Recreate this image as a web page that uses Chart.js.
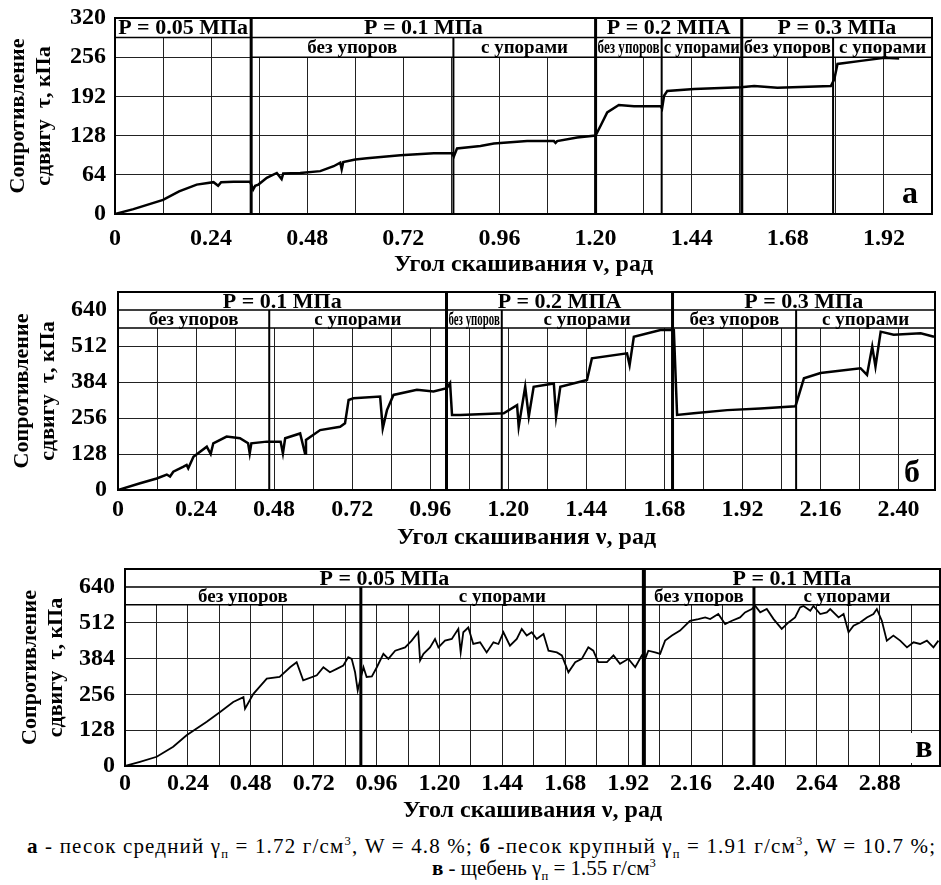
<!DOCTYPE html>
<html>
<head>
<meta charset="utf-8">
<script src="https://cdn.jsdelivr.net/npm/chart.js@4.4.1/dist/chart.umd.min.js"></script>
<style>
  body { margin: 0; background: #fff; width: 941px; height: 885px; position: relative; overflow: hidden; }
  canvas { position: absolute; left: 0; }
  .cap { position: absolute; font-family: 'Liberation Serif'; font-size: 21px; line-height: 24px; color: #000; white-space: nowrap; }
  .cap sub, .cap sup { font-size: 0.6em; line-height: 0; }
</style>
</head>
<body>
<canvas id="chartA" width="941" height="280" style="top:0"></canvas>
<canvas id="chartB" width="941" height="280" style="top:280px"></canvas>
<canvas id="chartC" width="941" height="265" style="top:560px"></canvas>
<div class="cap" id="cap1" style="left:27px;top:834px"><b>а</b> - песок средний  γ<sub>п</sub> = 1.72 г/см<sup>3</sup>, W = 4.8 %; <b>б</b> -песок крупный  γ<sub>п</sub> = 1.91 г/см<sup>3</sup>, W = 10.7 %;</div>
<div class="cap" id="cap2" style="left:432px;top:856px"><b>в</b> - щебень γ<sub>п</sub> = 1.55 г/см<sup>3</sup></div>

<script>
// a - medium sand
const angA = [0, 0.046, 0.12, 0.16, 0.204, 0.246, 0.2575, 0.265, 0.296, 0.3375, 0.345, 0.35, 0.358, 0.379, 0.404, 0.416, 0.42, 0.4625, 0.5125, 0.546, 0.5625, 0.566, 0.57, 0.6, 0.629, 0.7125, 0.796, 0.842, 0.846, 0.854, 0.9125, 0.946, 1.029, 1.096, 1.1, 1.104, 1.154, 1.2, 1.2125, 1.229, 1.258, 1.296, 1.3625, 1.366, 1.371, 1.379, 1.446, 1.5625, 1.596, 1.654, 1.7875, 1.796, 1.804, 1.8625, 1.921, 1.958];
const tauA = [0, 8, 23, 37, 48, 52, 46, 52, 52.5, 52.5, 40, 46, 48, 59, 67, 57, 66, 67, 70, 78, 84, 73, 85, 89, 91, 96, 99, 99, 94, 107, 111, 115, 119, 119, 116, 119, 125, 128, 144, 166, 178, 176, 176, 172, 193, 201, 204, 207, 209, 206, 209, 220, 245, 250, 255, 254];

// б - coarse sand
const angB = [0, 0.068, 0.119, 0.15, 0.16, 0.17, 0.2, 0.211, 0.216, 0.232, 0.273, 0.285, 0.293, 0.334, 0.375, 0.40, 0.405, 0.41, 0.4575, 0.50, 0.507, 0.514, 0.56, 0.575, 0.578, 0.6215, 0.683, 0.698, 0.709, 0.724, 0.806, 0.814, 0.827, 0.847, 0.919, 0.97, 1.011, 1.021, 1.027, 1.052, 1.186, 1.227, 1.232, 1.252, 1.263, 1.278, 1.34, 1.347, 1.36, 1.442, 1.457, 1.565, 1.573, 1.586, 1.668, 1.709, 1.719, 1.77, 1.873, 1.975, 2.083, 2.109, 2.16, 2.283, 2.303, 2.319, 2.329, 2.345, 2.385, 2.468, 2.509];
const tauB = [0, 24, 41, 55, 48, 65, 82, 89, 77, 118, 154, 128, 166, 190, 184, 166, 130, 166, 172, 172, 130, 184, 201, 130, 178, 213, 225, 237, 320, 326, 332, 219, 284, 338, 356, 350, 362, 380, 267, 267, 273, 302, 225, 367, 261, 367, 379, 261, 367, 391, 468, 486, 444, 545, 569, 569, 267, 273, 284, 290, 298, 397, 416, 433, 409, 510, 439, 563, 552, 557, 545];

// в - crushed stone
const angC = [0, 0.057, 0.121, 0.184, 0.235, 0.312, 0.363, 0.413, 0.452, 0.458, 0.49, 0.541, 0.59, 0.63, 0.655, 0.68, 0.732, 0.757,
  0.782, 0.808, 0.833, 0.852, 0.865, 0.878, 0.888, 0.897, 0.91, 0.922, 0.942, 0.961, 0.986, 1.005, 1.031, 1.069, 1.094, 1.119, 1.126, 1.139, 1.164, 1.183, 1.196, 1.221, 1.247, 1.272, 1.281, 1.291, 1.31, 1.329, 1.355, 1.38, 1.406, 1.425, 1.444, 1.469, 1.495, 1.514, 1.533, 1.552, 1.571, 1.597, 1.616, 1.648, 1.667, 1.692, 1.718, 1.743, 1.768, 1.787, 1.806, 1.839, 1.864, 1.889, 1.921, 1.947, 1.972, 1.985,
  1.997, 2.023, 2.042, 2.061, 2.087, 2.118, 2.156, 2.188, 2.214, 2.233, 2.264, 2.29, 2.316, 2.347, 2.366, 2.392, 2.405, 2.424, 2.449, 2.475, 2.506, 2.532, 2.557, 2.576, 2.589, 2.615, 2.627, 2.653, 2.678, 2.691, 2.723, 2.742, 2.761, 2.78, 2.805, 2.831, 2.856, 2.869, 2.888, 2.907, 2.932, 2.958, 2.984, 3.009, 3.034, 3.06, 3.085, 3.104];
const tauC = [0, 15, 33, 69, 110, 158, 193, 229, 246, 205, 258, 312, 318, 353, 371, 306, 324, 353,
  335, 347, 359, 389, 383, 335, 270, 306, 353, 318, 320, 353, 401, 383, 412, 424, 448, 478, 377, 401, 424, 454, 424, 448, 454, 490, 406, 478, 495, 436, 442, 406, 442, 436, 478, 430, 454, 490, 466, 478, 454, 472, 412, 406, 395, 335, 371, 383, 424, 412, 371, 371, 395, 365, 383, 353, 395, 383,
  412, 406, 401, 448, 466, 484, 519, 525, 531, 525, 543, 507, 519, 531, 549, 561, 572, 549, 561, 525, 490, 513, 531, 567, 572, 555, 572, 543, 549, 561, 531, 543, 478, 501, 513, 531, 543, 561, 519, 448, 466, 448, 424, 442, 436, 448, 424, 448];

// axis ticks (grid lines) and labelled ticks
const xGridA = [0, 0.12, 0.24, 0.36, 0.48, 0.60, 0.72, 0.84, 0.96, 1.08, 1.20, 1.32, 1.44, 1.56, 1.68, 1.80, 1.92, 2.04];
const xLabelsA = [0, 0.24, 0.48, 0.72, 0.96, 1.20, 1.44, 1.68, 1.92];
const xGridB = [0, 0.12, 0.24, 0.36, 0.48, 0.60, 0.72, 0.84, 0.96, 1.08, 1.20, 1.32, 1.44, 1.56, 1.68, 1.80, 1.92, 2.04, 2.16, 2.28, 2.40];
const xLabelsB = [0, 0.24, 0.48, 0.72, 0.96, 1.20, 1.44, 1.68, 1.92, 2.16, 2.40];
const xGridC = [0, 0.12, 0.24, 0.36, 0.48, 0.60, 0.72, 0.84, 0.96, 1.08, 1.20, 1.32, 1.44, 1.56, 1.68, 1.80, 1.92, 2.04, 2.16, 2.28, 2.40, 2.52, 2.64, 2.76, 2.88, 3.00];
const xLabelsC = [0, 0.24, 0.48, 0.72, 0.96, 1.20, 1.44, 1.68, 1.92, 2.16, 2.40, 2.64, 2.88];
const yGridA = [0, 32, 64, 96, 128, 160, 192, 224, 256, 288, 320];
const yLabelsA = [0, 64, 128, 192, 256, 320];
const yGridBC = [0, 64, 128, 192, 256, 320, 384, 448, 512, 576, 640, 704];
const yLabelsBC = [0, 128, 256, 384, 512, 640];

// header bands: pressure row and sub row (from, to, text)
const pressA = [[0, 0.34, 'P = 0.05 МПа'], [0.34, 1.2, 'P = 0.1 МПа'], [1.2, 1.565, 'P = 0.2 МПА'], [1.565, 2.04, 'P = 0.3 МПа']];
const stopsA = [[0.34, 0.845, 'без упоров'], [0.845, 1.2, 'с упорами'], [1.2, 1.365, 'без упоров'], [1.365, 1.565, 'с упорами'], [1.565, 1.793, 'без упоров'], [1.793, 2.04, 'с упорами']];
const splitsA = [[0.34, true], [0.845, false], [1.2, true], [1.365, false], [1.565, true], [1.793, false]];

const pressB = [[0, 1.01, 'P = 0.1 МПа'], [1.01, 1.705, 'P = 0.2 МПА'], [1.705, 2.512, 'P = 0.3 МПа']];
const stopsB = [[0, 0.465, 'без упоров'], [0.465, 1.01, 'с упорами'], [1.01, 1.18, 'без упоров'], [1.18, 1.705, 'с упорами'], [1.705, 2.085, 'без упоров'], [2.085, 2.512, 'с упорами']];
const splitsB = [[0.465, false], [1.01, true], [1.18, false], [1.705, true], [2.085, false]];

const pressC = [[0, 1.98, 'P = 0.05 МПа'], [1.98, 3.11, 'P = 0.1 МПа']];
const stopsC = [[0, 0.9, 'без упоров'], [0.9, 1.98, 'с упорами'], [1.98, 2.40, 'без упоров'], [2.40, 3.11, 'с упорами']];
const splitsC = [[0.9, false], [1.98, true], [2.40, false]];

const serif = "'Liberation Serif'";
Chart.defaults.font.family = serif;
Chart.defaults.color = '#000';

// stretch the first caption line to the width it has in the figure
const cap1 = document.getElementById('cap1');
cap1.style.letterSpacing = ((911 - cap1.offsetWidth) / cap1.textContent.length) + 'px';

function fitText(ctx, text, cx, cy, maxW) {
  const w = ctx.measureText(text).width;
  const k = w > maxW ? maxW / w : 1;
  ctx.save();
  ctx.translate(cx, cy);
  ctx.scale(k, 1);
  ctx.fillText(text, 0, 0);
  ctx.restore();
}

// draws the white header rows, section dividers, labels, panel letter and frame
function makeHeader(h) {
  return {
    id: 'header',
    afterDraw(chart) {
      const { ctx, chartArea: ca } = chart;
      const sx = chart.scales.x, sy = chart.scales.y;
      const px = v => sx.getPixelForValue(v);
      const yMid = sy.getPixelForValue(h.rows[1]);
      const yLow = sy.getPixelForValue(h.rows[0]);
      ctx.save();
      ctx.fillStyle = '#fff';
      ctx.fillRect(ca.left, ca.top, ca.right - ca.left, yMid - ca.top);
      h.stops.forEach(s => ctx.fillRect(px(s[0]), yMid, px(s[1]) - px(s[0]), yLow - yMid));

      ctx.strokeStyle = '#000';
      ctx.lineWidth = 1.5;
      ctx.beginPath();
      ctx.moveTo(ca.left, yMid);
      ctx.lineTo(ca.right, yMid);
      h.stops.forEach(s => { ctx.moveTo(px(s[0]), yLow); ctx.lineTo(px(s[1]), yLow); });
      ctx.stroke();

      h.splits.forEach(d => {
        ctx.lineWidth = d[1] ? h.thick : h.thin;
        ctx.beginPath();
        ctx.moveTo(px(d[0]), d[1] ? ca.top : yMid);
        ctx.lineTo(px(d[0]), ca.bottom);
        ctx.stroke();
      });

      ctx.fillStyle = '#000';
      ctx.textAlign = 'center';
      ctx.textBaseline = 'middle';
      ctx.font = 'bold 22px ' + serif;
      h.press.forEach(p => fitText(ctx, p[2], (px(p[0]) + px(p[1])) / 2, (ca.top + yMid) / 2 + 1, px(p[1]) - px(p[0]) - 6));
      ctx.font = 'bold 19px ' + serif;
      h.stops.forEach(s => fitText(ctx, s[2], (px(s[0]) + px(s[1])) / 2, (yMid + yLow) / 2 + 1, px(s[1]) - px(s[0]) - 4));

      ctx.font = 'bold 32px ' + serif;
      ctx.textBaseline = 'alphabetic';
      const lx = ca.right - h.letterDx, ly = ca.bottom - h.letterDy;
      const lw = ctx.measureText(h.letter).width + 10;
      ctx.fillStyle = '#fff';
      ctx.fillRect(lx - lw / 2, ly - 24, lw, 30);
      ctx.fillStyle = '#000';
      ctx.fillText(h.letter, lx, ly);

      ctx.lineWidth = 2;
      ctx.strokeRect(ca.left, ca.top, ca.right - ca.left, ca.bottom - ca.top);
      ctx.restore();
    }
  };
}

function fmt(v) {
  return v === 0 ? '0' : v.toFixed(2);
}

function makeChart(id, ang, tau, ax) {
  return new Chart(document.getElementById(id), {
    type: 'line',
    data: {
      datasets: [{
        data: ang.map((v, i) => ({ x: v, y: tau[i] })),
        borderColor: '#000',
        borderWidth: ax.lineW,
        pointRadius: 0,
        tension: 0,
        fill: false
      }]
    },
    options: {
      responsive: false,
      animation: false,
      layout: { padding: ax.pad },
      plugins: { legend: { display: false }, tooltip: { enabled: false } },
      scales: {
        x: {
          type: 'linear',
          min: 0,
          max: ax.xMax,
          afterBuildTicks: s => { s.ticks = ax.xGrid.map(v => ({ value: v })); },
          afterFit: s => { s.height = ax.xH; s.paddingLeft = 0; s.paddingRight = 0; },
          ticks: {
            autoSkip: false,
            maxRotation: 0,
            padding: ax.xPad,
            font: { family: serif, size: 24, weight: 'bold' },
            callback: v => ax.xLabels.includes(v) ? fmt(v) : ''
          },
          grid: { color: '#222', lineWidth: 1, drawTicks: false },
          border: { color: '#000', width: 2 },
          title: {
            display: true,
            text: 'Угол скашивания ν, рад',
            font: { family: serif, size: 24, weight: 'bold' },
            padding: { top: 0, bottom: ax.xtPad }
          }
        },
        y: {
          min: 0,
          max: ax.yMax,
          afterBuildTicks: s => { s.ticks = ax.yGrid.map(v => ({ value: v })); },
          afterFit: s => { s.width = ax.yW; s.paddingTop = 0; s.paddingBottom = 0; },
          ticks: {
            padding: ax.yPad,
            font: { family: serif, size: 24, weight: 'bold' },
            callback: v => ax.yLabels.includes(v) ? String(v) : ''
          },
          grid: { color: '#222', lineWidth: 1, drawTicks: false },
          border: { color: '#000', width: 2 },
          title: {
            display: true,
            text: ['Сопротивление', 'сдвигу  τ, кПа'],
            font: { family: serif, size: 22, weight: 'bold', lineHeight: 1.2 },
            padding: { top: ax.ytPad, bottom: 0 }
          }
        }
      }
    },
    plugins: [makeHeader(ax.head)]
  });
}

makeChart('chartA', angA, tauA, {
  lineW: 2.5, xMax: 2.04, yMax: 320,
  pad: { left: 0, right: 9, top: 18, bottom: 0 },
  xH: 66, yW: 115, xPad: 10, yPad: 9, xtPad: 1, ytPad: 5,
  xGrid: xGridA, xLabels: xLabelsA, yGrid: yGridA, yLabels: yLabelsA,
  head: { rows: [256, 288], press: pressA, stops: stopsA, splits: splitsA, thick: 3, thin: 2, letter: 'а', letterDx: 22, letterDy: 11 }
});

makeChart('chartB', angB, tauB, {
  lineW: 2.5, xMax: 2.512, yMax: 704,
  pad: { left: 0, right: 6, top: 12, bottom: 0 },
  xH: 70, yW: 118, xPad: 5, yPad: 11, xtPad: 8, ytPad: 9,
  xGrid: xGridB, xLabels: xLabelsB, yGrid: yGridBC, yLabels: yLabelsBC,
  head: { rows: [576, 640], press: pressB, stops: stopsB, splits: splitsB, thick: 3, thin: 2, letter: 'б', letterDx: 23, letterDy: 8 }
});

makeChart('chartC', angC, tauC, {
  lineW: 1.8, xMax: 3.11, yMax: 704,
  pad: { left: 0, right: 1, top: 9, bottom: 0 },
  xH: 59, yW: 125, xPad: 3, yPad: 10, xtPad: 0, ytPad: 17,
  xGrid: xGridC, xLabels: xLabelsC, yGrid: yGridBC, yLabels: yLabelsBC,
  head: { rows: [576, 640], press: pressC, stops: stopsC, splits: splitsC, thick: 4, thin: 3, letter: 'в', letterDx: 16, letterDy: 9 }
});
</script>
</body>
</html>
